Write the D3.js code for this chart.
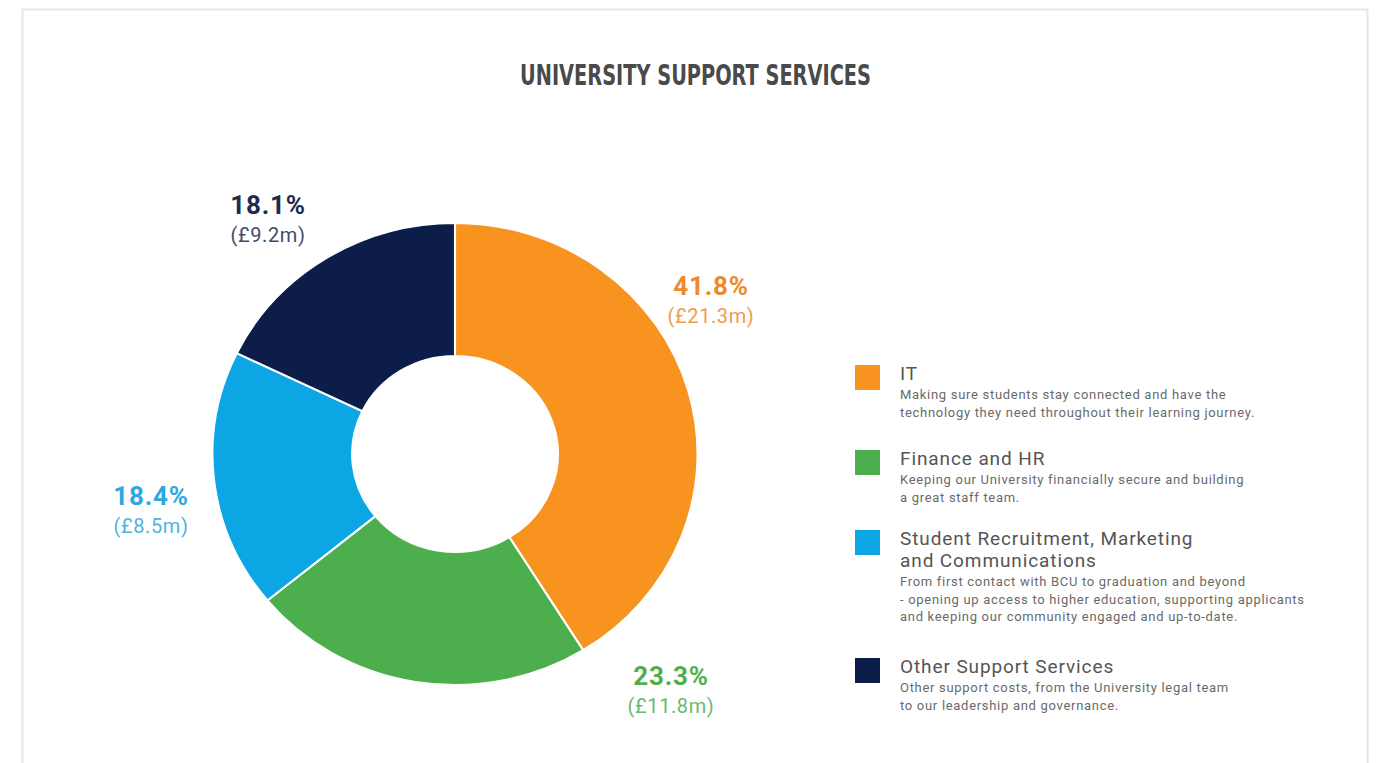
<!DOCTYPE html>
<html>
<head>
<meta charset="utf-8">
<script src="https://cdn.jsdelivr.net/npm/d3@7/dist/d3.min.js"></script>
<style>
  html, body { margin: 0; padding: 0; background: #fff; }
  svg { display: block; }
</style>
</head>
<body>
<svg id="chart" width="1376" height="763"></svg>
<script>
// Spending split across university support services
const categories = ["IT", "Finance and HR", "Student Recruitment, Marketing and Communications", "Other Support Services"];
const percents = [41.8, 23.3, 18.4, 18.1];
const amounts = ["£21.3m", "£11.8m", "£8.5m", "£9.2m"];
const sliceColors = ["#F7931E", "#4CAE4C", "#0BA6E3", "#0B1D48"];
const labelColors = ["#EE8A2E", "#4FAE50", "#2DA7DF", "#1D2B4F"];
const legendTitles = [
  ["IT"],
  ["Finance and HR"],
  ["Student Recruitment, Marketing", "and Communications"],
  ["Other Support Services"]
];
const legendNotes = [
  ["Making sure students stay connected and have the", "technology they need throughout their learning journey."],
  ["Keeping our University financially secure and building", "a great staff team."],
  ["From first contact with BCU to graduation and beyond", "- opening up access to higher education, supporting applicants", "and keeping our community engaged and up-to-date."],
  ["Other support costs, from the University legal team", "to our leadership and governance."]
];

const svg = d3.select("#chart");

// outer frame
svg.append("rect")
  .attr("x", 22.5).attr("y", 9.5).attr("width", 1345).attr("height", 760)
  .attr("fill", "#fff").attr("stroke", "#e6e6e6").attr("stroke-width", 2);

// condensed heading
svg.append("text")
  .attr("x", 520).attr("y", 85)
  .attr("font-family", "'DejaVu Sans Condensed', 'DejaVu Sans', sans-serif")
  .attr("font-weight", 700)
  .attr("font-size", 29)
  .attr("textLength", 351)
  .attr("lengthAdjust", "spacingAndGlyphs")
  .attr("fill", "#4a4a4a")
  .text("UNIVERSITY SUPPORT SERVICES");

// donut
const cx = 455, cy = 454;
const outerR = 231, innerR = 98;
const data = categories.map((c, i) => ({ name: c, value: percents[i], i }));
const pie = d3.pie().value(d => d.value).sort(null);
const arc = d3.arc().innerRadius(innerR).outerRadius(outerR);

const donut = svg.append("g")
  .attr("transform", `translate(${cx},${cy}) scale(1.05,1)`);
donut.selectAll("path")
  .data(pie(data))
  .join("path")
  .attr("d", arc)
  .attr("fill", d => sliceColors[d.data.i])
  .attr("stroke", "#fff")
  .attr("stroke-width", 2);

// value labels placed around the ring
const labelSpots = [
  { dx: 256, dy: -159 },
  { dx: 216, dy: 231 },
  { dx: -304, dy: 51 },
  { dx: -187, dy: -240 }
];
const labels = svg.append("g").attr("font-family", "Roboto, 'DejaVu Sans', sans-serif");
data.forEach((d, i) => {
  const s = labelSpots[i];
  const g = labels.append("g").attr("transform", `translate(${cx + s.dx},${cy + s.dy})`);
  g.append("text")
    .attr("text-anchor", "middle")
    .attr("font-weight", 700)
    .attr("font-size", 26)
    .attr("letter-spacing", 0.8)
    .attr("fill", labelColors[i])
    .text(d3.format(".1f")(percents[i]) + "%");
  g.append("text")
    .attr("y", 28)
    .attr("text-anchor", "middle")
    .attr("font-size", 20)
    .attr("letter-spacing", 0.6)
    .attr("fill", labelColors[i])
    .attr("opacity", 0.85)
    .text("(" + amounts[i] + ")");
});

// legend
const legendTops = [365, 450, 530, 658];
const titleStep = 22;
const legend = svg.append("g").attr("font-family", "Roboto, 'DejaVu Sans', sans-serif");
categories.forEach((c, i) => {
  const y0 = legendTops[i];
  const g = legend.append("g").attr("transform", `translate(855,${y0})`);
  g.append("rect").attr("width", 25).attr("height", 25).attr("fill", sliceColors[i]);
  let y = 15;
  legendTitles[i].forEach((t, k) => {
    g.append("text")
      .attr("x", 45).attr("y", y + k * titleStep)
      .attr("font-size", 19)
      .attr("letter-spacing", 0.9)
      .attr("fill", "#555")
      .text(t);
  });
  y += (legendTitles[i].length - 1) * titleStep + 19;
  legendNotes[i].forEach((t, k) => {
    g.append("text")
      .attr("x", 45).attr("y", y + k * 17.5)
      .attr("font-size", 13)
      .attr("letter-spacing", 0.7)
      .attr("fill", "#6a6a6a")
      .text(t);
  });
});
</script>
</body>
</html>
